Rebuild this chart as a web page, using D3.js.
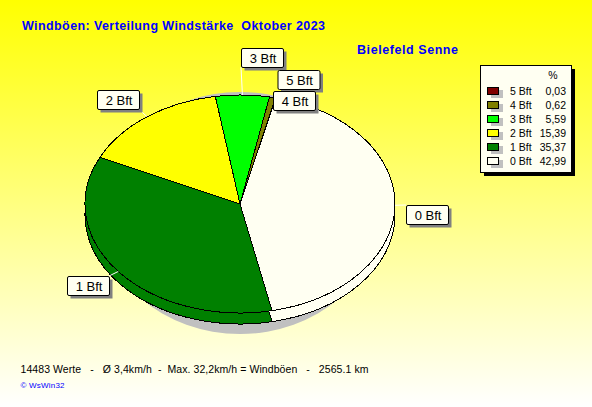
<!DOCTYPE html>
<html><head><meta charset="utf-8">
<script src="https://cdn.jsdelivr.net/npm/d3@7"></script>
<style>html,body{margin:0;padding:0;background:#fff}svg{display:block}text{font-family:"Liberation Sans",Arial,sans-serif}</style>
</head><body><svg id="c" width="592" height="407"></svg>
<script>
const categories=["0 Bft","1 Bft","2 Bft","3 Bft","4 Bft","5 Bft"];
const percents=[42.99,35.37,15.39,5.59,0.62,0.03];
const percentLabels=["42,99","35,37","15,39","5,59","0,62","0,03"];
const colors=["#fffff2","#008000","#ffff00","#00ff00","#808000","#800000"];
const titleText="Windböen: Verteilung Windstärke  Oktober 2023";
const stationText="Bielefeld Senne";
const footerText="14483 Werte   -   Ø 3,4km/h  -  Max. 32,2km/h = Windböen   -   2565.1 km";
const creditText="© WsWin32";

const W=592,H=407,cx=240,cy=204,rx=155,ry=109,depth=11,startDeg=13.3;
const svg=d3.select("#c");
const defs=svg.append("defs");
const g=defs.append("linearGradient").attr("id","bg").attr("x1",0).attr("y1",0).attr("x2",0).attr("y2",1);
g.append("stop").attr("offset",0).attr("stop-color","#ffff00");
g.append("stop").attr("offset",1).attr("stop-color","#ffffff");
svg.append("rect").attr("width",W).attr("height",H).attr("fill","url(#bg)");

svg.append("text").attr("x",22).attr("y",30).attr("fill","#0000ff").attr("font-weight","bold").attr("font-size",12.5)
  .attr("xml:space","preserve").style("white-space","pre").attr("textLength",303).text(titleText);
svg.append("text").attr("x",357).attr("y",54).attr("fill","#0000ff").attr("font-weight","bold").attr("font-size",12.5)
  .attr("textLength",101).text(stationText);

// pie
const pie=d3.pie().sort(null).value(d=>d).startAngle(startDeg*Math.PI/180).endAngle((startDeg+360)*Math.PI/180);
const arcs=pie(percents);
const arc=d3.arc().innerRadius(0).outerRadius(rx);
const sy=ry/rx;
svg.append("ellipse").attr("cx",cx).attr("cy",cy+9).attr("rx",140).attr("ry",ry+12).attr("fill","#c0c0c0");
function layer(dy){
  const l=svg.append("g").attr("transform",`translate(${cx},${cy+dy}) scale(1,${sy})`).attr("shape-rendering","crispEdges");
  l.selectAll("path").data(arcs).join("path").attr("d",arc)
    .attr("fill",(d,i)=>colors[i]).attr("stroke","#000").attr("stroke-width",1)
    .attr("vector-effect","non-scaling-stroke").attr("stroke-linejoin","round");
}
layer(depth);
layer(0);

// labels
const boxes={"0 Bft":[406,205],"1 Bft":[67,276],"2 Bft":[97,90],"3 Bft":[241,48],"4 Bft":[273,91],"5 Bft":[277.5,70]};
const bw=42,bh=19;
function pt(d){const a=(d.startAngle+d.endAngle)/2;return [cx+rx*Math.sin(a),cy-ry*Math.cos(a)];}
const leaders=[[0,0,0],[1,bw,0],[2,bw,bh],[3,0,bh]];
leaders.forEach(([i,ox,oy])=>{
  const p=pt(arcs[i]),b=boxes[categories[i]];
  svg.append("line").attr("x1",p[0]).attr("y1",p[1]).attr("x2",b[0]+ox).attr("y2",b[1]+oy)
    .attr("stroke","#fff").attr("stroke-width",1);
});
["3 Bft","2 Bft","5 Bft","4 Bft","0 Bft","1 Bft"].forEach(c=>{
  const b=boxes[c];
  svg.append("rect").attr("x",b[0]+3.5).attr("y",b[1]+3.5).attr("width",bw).attr("height",bh).attr("fill","#808080");
  svg.append("rect").attr("x",b[0]+.5).attr("y",b[1]+.5).attr("width",bw).attr("height",bh).attr("rx",1.5)
    .attr("fill","#fffff2").attr("stroke","#000");
  svg.append("text").attr("x",b[0]+bw/2+1).attr("y",b[1]+14.5).attr("text-anchor","middle")
    .attr("font-size",13).attr("fill","#000").text(c);
});

// legend
const lx=480,ly=65,lw=91,lh=107;
svg.append("rect").attr("x",lx+4).attr("y",ly+4).attr("width",lw).attr("height",lh).attr("fill","#000");
svg.append("rect").attr("x",lx+.5).attr("y",ly+.5).attr("width",lw).attr("height",lh).attr("fill","#fffff2").attr("stroke","#000");
svg.append("text").attr("x",553).attr("y",79).attr("text-anchor","middle").attr("font-size",10.5).text("%");
const rowY=d3.scaleLinear().domain([5,0]).range([91,161]);
categories.forEach((c,i)=>{
  const y=rowY(i);
  svg.append("rect").attr("x",491).attr("y",y-1).attr("width",12).attr("height",8).attr("fill","#c0c0c0");
  svg.append("rect").attr("x",487.5).attr("y",y-3.5).attr("width",11).attr("height",7).attr("fill",colors[i]).attr("stroke","#000");
  svg.append("text").attr("x",510).attr("y",y+4).attr("font-size",10.5).text(c);
  svg.append("text").attr("x",566).attr("y",y+4).attr("text-anchor","end").attr("font-size",10.5).text(percentLabels[i]);
});

// footer
svg.append("text").attr("x",20.5).attr("y",373).attr("font-size",10.5).style("white-space","pre").attr("textLength",348).text(footerText);
svg.append("text").attr("x",20.5).attr("y",388).attr("font-size",8).attr("fill","#0000ff").attr("textLength",44).text(creditText);
</script></body></html>
